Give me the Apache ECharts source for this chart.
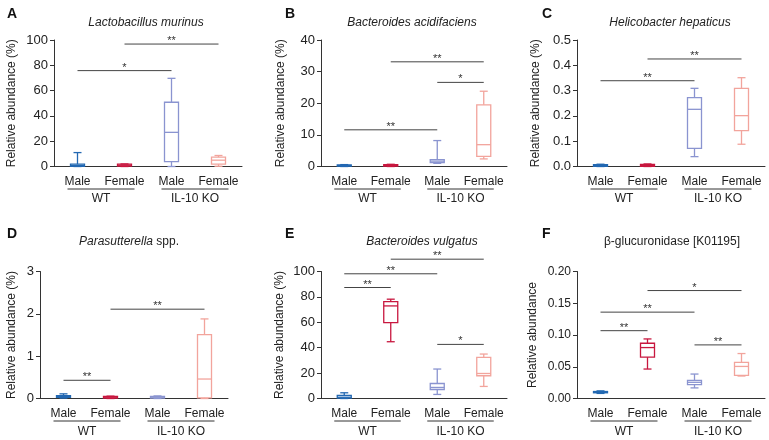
<!DOCTYPE html>
<html><head><meta charset="utf-8">
<script src="https://cdn.jsdelivr.net/npm/echarts/dist/echarts.min.js"></script>
<style>html,body{margin:0;padding:0;background:#fff}#c{width:769px;height:440px}</style>
</head><body><div id="c"></div>
<script>
// ---------- DATA ----------
const categories = ['Male', 'Female', 'Male', 'Female'];
const groupLabels = ['WT', 'IL-10 KO'];
const groupSpans = [[0, 1], [2, 3]];

// Box values per category: [min, Q1, median, Q3, max]
const lactobacillusMurinus = [[0, 0.2, 0.8, 1.8, 11], [0, 0.3, 1, 1.8, 2], [0, 3.9, 27, 50.8, 69.7], [0.2, 1.8, 5, 7.4, 8.7]];
const bacteroidesAcidifaciens = [[0, 0.1, 0.3, 0.5, 0.6], [0, 0.1, 0.3, 0.6, 0.7], [1.0, 1.2, 1.7, 2.2, 8.2], [2.4, 3.2, 6.9, 19.5, 23.8]];
const helicobacterHepaticus = [[0, 0.001, 0.003, 0.007, 0.009], [0, 0.001, 0.004, 0.008, 0.01], [0.039, 0.072, 0.226, 0.272, 0.309], [0.088, 0.142, 0.201, 0.309, 0.351]];
const parasutterella = [[0.01, 0.03, 0.05, 0.07, 0.11], [0, 0.01, 0.03, 0.05, 0.055], [0, 0.01, 0.03, 0.05, 0.06], [0, 0.016, 0.46, 1.51, 1.88]];
const bacteroidesVulgatus = [[0, 0.3, 1, 2.4, 4.5], [44.7, 59.7, 72.9, 76.3, 78.2], [3.2, 7.1, 8.7, 11.8, 23.2], [9.5, 17.9, 19.7, 32.4, 35]];
const betaGlucuronidase = [[0.008, 0.009, 0.010, 0.011, 0.012], [0.0464, 0.0651, 0.0802, 0.087, 0.0938], [0.0167, 0.0219, 0.0255, 0.0286, 0.0385], [0.0354, 0.0365, 0.0505, 0.0568, 0.0708]];

// Significance brackets: [fromCategory, toCategory, yValue, numberOfStars]
const sigA = [[0, 2, 75.8, 1], [1, 3, 96.8, 2]];
const sigB = [[0, 2, 11.6, 2], [1, 3, 33.1, 2], [2, 3, 26.6, 1]];
const sigC = [[0, 2, 0.339, 2], [1, 3, 0.425, 2]];
const sigD = [[0, 1, 0.43, 2], [1, 3, 2.11, 2]];
const sigE = [[0, 1, 87.4, 2], [0, 2, 98.2, 2], [1, 3, 109.7, 2], [2, 3, 42.6, 1]];
const sigF = [[0, 1, 0.1068, 2], [0, 2, 0.136, 2], [1, 3, 0.170, 1], [2, 3, 0.0844, 2]];

// Y tick labels
const ticksA = [0, 20, 40, 60, 80, 100];
const ticksB = [0, 10, 20, 30, 40];
const ticksC = [0, 0.1, 0.2, 0.3, 0.4, 0.5];
const ticksD = [0, 1, 2, 3];
const ticksE = [0, 20, 40, 60, 80, 100];
const ticksF = [0, 0.05, 0.10, 0.15, 0.20];

const letters = ['A', 'B', 'C', 'D', 'E', 'F'];
const titles = ['{i|Lactobacillus murinus}', '{i|Bacteroides acidifaciens}', '{i|Helicobacter hepaticus}', '{i|Parasutterella} spp.', '{i|Bacteroides vulgatus}', 'β-glucuronidase [K01195]'];
const yNames = ['Relative abundance (%)', 'Relative abundance (%)', 'Relative abundance (%)', 'Relative abundance (%)', 'Relative abundance (%)', 'Relative abundance'];

// ---------- STYLE / LAYOUT ----------
const FONT = '"Liberation Sans", Arial, Helvetica, sans-serif';
const boxColors = ['#2368b2', '#c8173f', '#8a94d0', '#f2a49c'];
const INK = '#222';
const panels = [
  { boxes: lactobacillusMurinus, sig: sigA, ticks: ticksA, dec: 0 },
  { boxes: bacteroidesAcidifaciens, sig: sigB, ticks: ticksB, dec: 0 },
  { boxes: helicobacterHepaticus, sig: sigC, ticks: ticksC, dec: 1 },
  { boxes: parasutterella, sig: sigD, ticks: ticksD, dec: 0 },
  { boxes: bacteroidesVulgatus, sig: sigE, ticks: ticksE, dec: 0 },
  { boxes: betaGlucuronidase, sig: sigF, ticks: ticksF, dec: 2 }
];
const layout = [
  { left: 54, width: 188, top: 40, height: 126.5, tx: 146, ty: 17, lx: 7, ly: 7, gap: 36, gm: 26, lm: 9, fs: 13 },
  { left: 321, width: 186, top: 40, height: 126.5, tx: 412, ty: 17, lx: 285, ly: 7, gap: 34, gm: 26, lm: 9, fs: 13 },
  { left: 577, width: 188, top: 40, height: 126.5, tx: 670, ty: 17, lx: 542, ly: 7, gap: 35, gm: 26, lm: 9, fs: 13 },
  { left: 40, width: 188, top: 271.5, height: 127, tx: 129, ty: 236, lx: 7, ly: 227, gap: 22, gm: 27, lm: 9, fs: 13 },
  { left: 321, width: 186, top: 271.5, height: 127, tx: 422, ty: 236, lx: 285, ly: 227, gap: 35, gm: 27, lm: 9, fs: 13 },
  { left: 577, width: 188, top: 271.5, height: 127, tx: 672, ty: 236, lx: 542, ly: 227, gap: 38, gm: 27, lm: 9, fs: 12 }
];

function boxRender(params, api) {
  const k = api.value(0);
  const x = api.coord([k, 0])[0];
  const y = i => api.coord([k, api.value(i)])[1];
  const yMin = y(1), yQ1 = y(2), yMed = y(3), yQ3 = y(4), yMax = y(5);
  const hw = 7, cw = 4, c = boxColors[k];
  const st = { stroke: c, lineWidth: 1.3 };
  return { type: 'group', children: [
    { type: 'line', shape: { x1: x, y1: yMax, x2: x, y2: yQ3 }, style: st },
    { type: 'line', shape: { x1: x, y1: yQ1, x2: x, y2: yMin }, style: st },
    { type: 'line', shape: { x1: x - cw, y1: yMax, x2: x + cw, y2: yMax }, style: st },
    { type: 'line', shape: { x1: x - cw, y1: yMin, x2: x + cw, y2: yMin }, style: st },
    { type: 'rect', shape: { x: x - hw, y: yQ3, width: 2 * hw, height: Math.max(yQ1 - yQ3, 0.5) }, style: { stroke: c, lineWidth: 1.3, fill: 'rgba(0,0,0,0)' } },
    { type: 'line', shape: { x1: x - hw, y1: yMed, x2: x + hw, y2: yMed }, style: st }
  ] };
}
function sigRender(params, api) {
  const a = api.coord([api.value(0), api.value(2)]);
  const b = api.coord([api.value(1), api.value(2)]);
  const n = api.value(3);
  return { type: 'group', children: [
    { type: 'line', shape: { x1: a[0], y1: a[1], x2: b[0], y2: b[1] }, style: { stroke: '#444', lineWidth: 1 } },
    { type: 'text', x: (a[0] + b[0]) / 2, y: a[1] - 3, style: { text: '*'.repeat(n), fontSize: 11, fontFamily: FONT, fill: '#333', align: 'center', verticalAlign: 'middle' } }
  ] };
}
function underlineRender(params, api) {
  const a = api.coord([api.value(0), 0]);
  const b = api.coord([api.value(1), 0]);
  const yy = a[1] + 22.5;
  return { type: 'line', shape: { x1: a[0] - 10, y1: yy, x2: b[0] + 10, y2: yy }, style: { stroke: '#333', lineWidth: 1 } };
}

const option = { animation: false, backgroundColor: '#fff', title: [], grid: [], xAxis: [], yAxis: [], series: [] };
panels.forEach((p, i) => {
  const L = layout[i];
  option.title.push({ text: letters[i], left: L.lx, top: L.ly, padding: 0, textStyle: { fontSize: 14, fontWeight: 'bold', color: '#111', fontFamily: FONT } });
  option.title.push({ text: titles[i], left: L.tx, top: L.ty, padding: 0, textAlign: 'center',
    textStyle: { fontSize: 12, fontWeight: 'normal', color: INK, fontFamily: FONT,
      rich: { i: { fontSize: 12, fontStyle: 'italic', color: INK, fontFamily: FONT } } } });
  option.grid.push({ left: L.left, top: L.top, width: L.width, height: L.height });
  option.xAxis.push({ type: 'category', gridIndex: i, data: categories, position: 'bottom', boundaryGap: true,
    axisLine: { lineStyle: { color: '#333', width: 1 } },
    axisTick: { alignWithLabel: true, length: 4, lineStyle: { color: '#333' } },
    axisLabel: { interval: 0, fontSize: 12, color: INK, margin: L.lm, fontFamily: FONT },
    splitLine: { show: false } });
  option.xAxis.push({ type: 'category', gridIndex: i, data: groupLabels, position: 'bottom', boundaryGap: true,
    axisLine: { show: false }, axisTick: { show: false },
    axisLabel: { interval: 0, fontSize: 12, color: INK, margin: L.gm, fontFamily: FONT },
    splitLine: { show: false } });
  const t = p.ticks;
  option.yAxis.push({ type: 'value', gridIndex: i, min: t[0], max: t[t.length - 1], interval: t[1] - t[0],
    name: yNames[i], nameLocation: 'middle', nameGap: L.gap,
    nameTextStyle: { fontSize: 12, color: INK, fontFamily: FONT },
    axisLine: { show: true, lineStyle: { color: '#333', width: 1 } },
    axisTick: { show: true, length: 4, lineStyle: { color: '#333' } },
    axisLabel: { fontSize: L.fs, color: INK, margin: 6, fontFamily: FONT, formatter: v => v.toFixed(p.dec) },
    splitLine: { show: false } });
  option.series.push({ type: 'custom', xAxisIndex: 2 * i, yAxisIndex: i, clip: false, renderItem: boxRender,
    data: p.boxes.map((b, k) => [k].concat(b)), encode: { x: 0, y: [1, 2, 3, 4, 5] } });
  option.series.push({ type: 'custom', xAxisIndex: 2 * i, yAxisIndex: i, clip: false, renderItem: sigRender,
    data: p.sig, encode: { x: [0, 1], y: 2 } });
  option.series.push({ type: 'custom', xAxisIndex: 2 * i, yAxisIndex: i, clip: false, renderItem: underlineRender,
    data: groupSpans.map(g => [g[0], g[1], 0]), encode: { x: [0, 1], y: 2 } });
});
const chart = echarts.init(document.getElementById('c'), null, { renderer: 'canvas' });
chart.setOption(option);
</script>
</body></html>
